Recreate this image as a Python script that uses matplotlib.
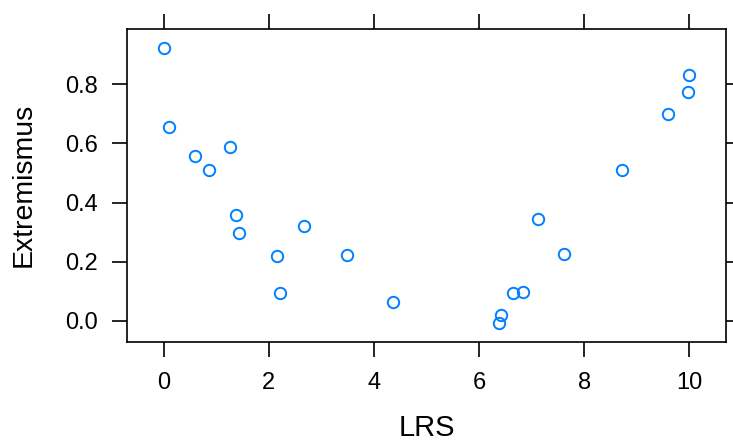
import matplotlib
matplotlib.use("Agg")
import matplotlib.pyplot as plt

# LRS (x) and Extremismus (y)
lrs = [0.00, 0.11, 0.60, 0.86, 1.27, 1.38, 1.44, 2.16, 2.21, 2.67, 3.49, 4.36,
       6.41, 6.39, 6.65, 6.83, 7.13, 7.62, 8.73, 9.59, 9.98, 9.99]
extremismus = [0.924, 0.656, 0.558, 0.512, 0.587, 0.358, 0.296, 0.220, 0.094, 0.322, 0.222, 0.065,
               0.021, -0.006, 0.096, 0.097, 0.345, 0.228, 0.510, 0.701, 0.775, 0.830]

xticks = [0, 2, 4, 6, 8, 10]
yticks = [0.0, 0.2, 0.4, 0.6, 0.8]

plt.rcParams['font.family'] = ['Liberation Sans', 'DejaVu Sans']

fig = plt.figure(figsize=(7.33, 4.41), dpi=100)
ax = fig.add_axes([0.1729, 0.2252, 0.8176, 0.7097])

ax.plot(lrs, extremismus, linestyle='none', marker='o', ms=8.2, mfc='none',
        mec='#0080ff', mew=1.4)

ax.set_xlim(-0.70, 10.70)
ax.set_ylim(-0.070, 0.988)
ax.set_xticks(xticks)
ax.set_yticks(yticks)
ax.set_xticklabels([str(t) for t in xticks])
ax.set_yticklabels(['%.1f' % t for t in yticks])

for s in ax.spines.values():
    s.set_linewidth(1.2)
ax.tick_params(direction='out', length=10.5, width=1.2, labelsize=17,
               top=True, right=True, labeltop=False, labelright=False)
ax.tick_params(axis='x', pad=11)
ax.tick_params(axis='y', pad=10)

ax.set_xlabel('LRS', fontsize=21, labelpad=15)
ax.set_ylabel('Extremismus', fontsize=20.5, labelpad=21)

fig.savefig('out.png', dpi=100)
